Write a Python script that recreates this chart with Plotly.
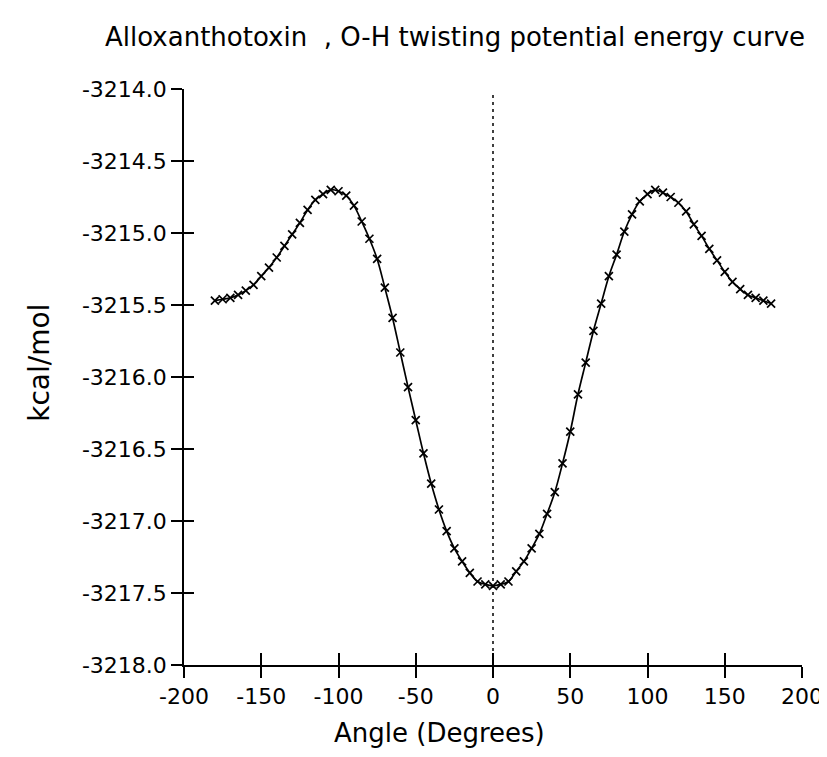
import plotly.graph_objects as go

# Data
angles = list(range(-180, 185, 5))
energies = [
    -3215.47, -3215.46, -3215.45, -3215.43, -3215.40, -3215.36, -3215.30, -3215.24,
    -3215.17, -3215.09, -3215.01, -3214.93, -3214.84, -3214.77, -3214.73, -3214.70,
    -3214.71, -3214.74, -3214.81, -3214.92, -3215.04, -3215.18, -3215.38, -3215.59,
    -3215.83, -3216.07, -3216.30, -3216.53, -3216.74, -3216.92, -3217.07, -3217.19,
    -3217.28, -3217.36, -3217.42, -3217.44, -3217.45, -3217.44, -3217.42, -3217.35,
    -3217.28, -3217.19, -3217.09, -3216.95, -3216.80, -3216.60, -3216.38, -3216.12,
    -3215.90, -3215.68, -3215.49, -3215.30, -3215.15, -3214.99, -3214.87, -3214.78,
    -3214.73, -3214.70, -3214.72, -3214.75, -3214.79, -3214.85, -3214.94, -3215.02,
    -3215.11, -3215.19, -3215.27, -3215.34, -3215.39, -3215.43, -3215.45, -3215.47,
    -3215.49,
]
x_ticks = [-200, -150, -100, -50, 0, 50, 100, 150, 200]
y_ticks = [-3218.0, -3217.5, -3217.0, -3216.5, -3216.0, -3215.5, -3215.0, -3214.5, -3214.0]
x_tick_labels = [str(v) for v in x_ticks]
y_tick_labels = ["%.1f" % v for v in y_ticks]
x_range = [-200, 200]
y_range = [-3218.0, -3214.0]

title_text = "Alloxanthotoxin  , O-H twisting potential energy curve"
x_title = "Angle (Degrees)"
y_title = "kcal/mol"

FONT = "DejaVu Sans"
W, H = 827, 757
ML, MR, MT, MB = 176, 21, 81, 100

fig = go.Figure()
fig.add_trace(go.Scatter(
    x=angles, y=energies, mode="lines+markers",
    line=dict(color="black", width=1.7, shape="spline"),
    marker=dict(symbol="x-thin", size=8, color="black", line=dict(width=1.7, color="black")),
    showlegend=False, hoverinfo="x+y",
))
# invisible copy on the overlay axes so that their inward tick marks get drawn
fig.add_trace(go.Scatter(
    x=angles, y=energies, mode="lines", xaxis="x2", yaxis="y2",
    line=dict(color="rgba(0,0,0,0)", width=0), showlegend=False, hoverinfo="skip",
))

# dotted vertical line at 0 degrees
fig.add_shape(type="line", xref="x", yref="y", x0=0, x1=0, y0=y_range[0], y1=-3214.03,
              line=dict(color="black", width=1.5, dash="3px,4px"))

axis_common = dict(showgrid=False, zeroline=False, showline=True, linecolor="black",
                   linewidth=1.5, ticks="outside", ticklen=11, tickwidth=1.5,
                   tickcolor="black", tickfont=dict(family=FONT, size=22, color="black"))

fig.update_layout(
    width=W, height=H,
    margin=dict(l=ML, r=MR, t=MT, b=MB),
    paper_bgcolor="white", plot_bgcolor="white",
    xaxis=dict(range=x_range, tickmode="array", tickvals=x_ticks, ticktext=x_tick_labels,
               **axis_common),
    yaxis=dict(range=y_range, tickmode="array", tickvals=y_ticks, ticktext=y_tick_labels,
               **axis_common),
    xaxis2=dict(range=x_range, overlaying="x", anchor="y", side="bottom", showgrid=False,
                zeroline=False, showline=False, ticks="inside", ticklen=12, tickwidth=1.5,
                tickcolor="black", tickmode="array", tickvals=x_ticks, showticklabels=False),
    yaxis2=dict(range=y_range, overlaying="y", anchor="x", side="left", showgrid=False,
                zeroline=False, showline=False, ticks="inside", ticklen=10, tickwidth=1.5,
                tickcolor="black", tickmode="array", tickvals=y_ticks, showticklabels=False),
    title=dict(text=title_text, x=97 / W, xanchor="left", xref="container",
               y=1 - 29 / H, yanchor="middle", yref="container",
               font=dict(family=FONT, size=26, color="black")),
)

fig.add_annotation(text=x_title, xref="paper", yref="paper",
                   x=(436 - ML) / (W - ML - MR), y=-(725 - (H - MB)) / (H - MT - MB),
                   xanchor="center", yanchor="middle", showarrow=False,
                   font=dict(family=FONT, size=26, color="black"))
fig.add_annotation(text=y_title, xref="paper", yref="paper",
                   x=-(ML - 28) / (W - ML - MR), y=1 - (355 - MT) / (H - MT - MB),
                   xanchor="center", yanchor="middle", textangle=-90, showarrow=False,
                   font=dict(family=FONT, size=28, color="black"))

fig.write_html("out.html")
